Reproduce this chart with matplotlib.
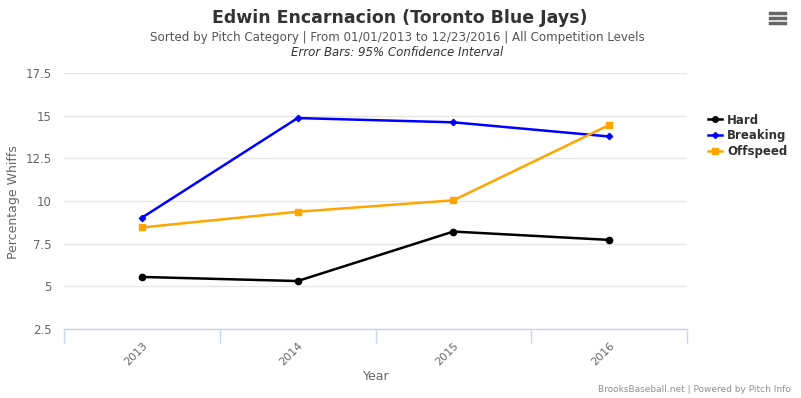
import matplotlib
matplotlib.use("Agg")
import matplotlib.pyplot as plt
from matplotlib.lines import Line2D

years = ["2013", "2014", "2015", "2016"]
hard = [5.55, 5.31, 8.21, 7.72]
breaking = [9.02, 14.86, 14.61, 13.78]
offspeed = [8.45, 9.37, 10.04, 14.45]
yticks = [2.5, 5, 7.5, 10, 12.5, 15, 17.5]
ytick_labels = ["2.5", "5", "7.5", "10", "12.5", "15", "17.5"]

W, H = 801, 398
fig = plt.figure(figsize=(W / 100, H / 100), dpi=100)
left, right, top, bottom = 64, 687, 73, 329
ax = fig.add_axes([left / W, 1 - bottom / H, (right - left) / W, (bottom - top) / H])

x = list(range(len(years)))
ax.plot(x, hard, color="black", lw=1.8, marker="o", ms=4.5, label="Hard", zorder=3)
ax.plot(x, breaking, color="#0000ff", lw=1.8, marker="D", ms=3.2, label="Breaking", zorder=3)
ax.plot(x, offspeed, color="#ffa500", lw=1.8, marker="s", ms=4.5, label="Offspeed", zorder=3)

ax.set_xlim(-0.5, len(years) - 0.5)
ax.set_ylim(2.5, 17.5)
ax.set_yticks(yticks)
ax.set_yticklabels(ytick_labels)
ax.grid(axis="y", color="#e6e6e6", lw=1)
ax.set_axisbelow(True)
for s in ["top", "right", "left"]:
    ax.spines[s].set_visible(False)
ax.spines["bottom"].set_color("#ccd6eb")
ax.spines["bottom"].set_linewidth(1)

ax.tick_params(axis="y", length=0, pad=9, labelsize=8.5, labelcolor="#666666")
ax.set_xticks([i - 0.5 for i in range(len(years) + 1)], minor=False)
ax.set_xticklabels([""] * (len(years) + 1))
ax.tick_params(axis="x", which="major", length=10, color="#ccd6eb", width=1)
ax.set_xticks(x, minor=True)
ax.set_xticklabels(years, minor=True, rotation=45, ha="right", rotation_mode="anchor",
                   fontsize=8, color="#666666")
ax.tick_params(axis="x", which="minor", length=0, pad=8)

fig.text(13 / W, 1 - 202 / H, "Percentage Whiffs", fontsize=9, color="#666666",
         rotation=90, ha="center", va="center")
fig.text(376 / W, 1 - 376 / H, "Year", fontsize=9, color="#666666", ha="center", va="center")

fig.text(400 / W, 1 - 18 / H, "Edwin Encarnacion (Toronto Blue Jays)", fontsize=12.5,
         fontweight="bold", color="#333333", ha="center", va="center")
fig.text(397 / W, 1 - 38 / H,
         "Sorted by Pitch Category | From 01/01/2013 to 12/23/2016 | All Competition Levels",
         fontsize=8.6, color="#555555", ha="center", va="center")
fig.text(397 / W, 1 - 53 / H, "Error Bars: 95% Confidence Interval", fontsize=8.5,
         style="italic", color="#333333", ha="center", va="center")
fig.text(791 / W, 1 - 389 / H, "BrooksBaseball.net | Powered by Pitch Info", fontsize=6.5,
         color="#909090", ha="right", va="center")

# hamburger icon
for yy in [13, 18, 23]:
    fig.add_artist(Line2D([770 / W, 785 / W], [1 - yy / H, 1 - yy / H], color="#666666", lw=2.5))

handles = [
    Line2D([], [], color="black", lw=1.8, marker="o", ms=4),
    Line2D([], [], color="#0000ff", lw=1.8, marker="D", ms=3),
    Line2D([], [], color="#ffa500", lw=1.8, marker="s", ms=4),
]
leg = fig.legend(handles, ["Hard", "Breaking", "Offspeed"], loc="center left",
                 bbox_to_anchor=(700 / W, 1 - 136 / H), frameon=False, handlelength=1.2,
                 handletextpad=0.4, labelspacing=0.25, borderpad=0.2,
                 prop={"weight": "bold", "size": 8.5})
for t in leg.get_texts():
    t.set_color("#333333")

fig.savefig("out.png", dpi=100)
